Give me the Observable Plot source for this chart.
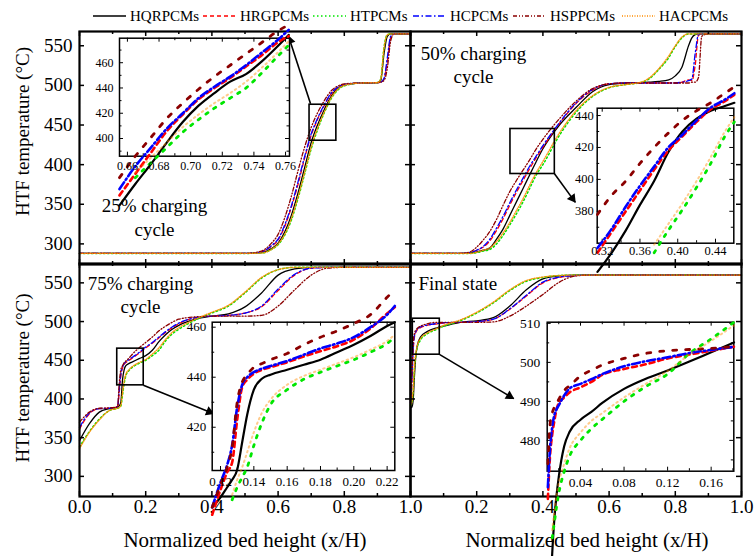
<!DOCTYPE html>
<html><head><meta charset="utf-8">
<script src="https://cdn.jsdelivr.net/npm/d3@7"></script>
<script src="https://cdn.jsdelivr.net/npm/@observablehq/plot@0.6"></script>
<style>
body{margin:0;background:#fff;}
#chart{position:relative;width:755px;height:556px;overflow:hidden;background:#fff;font-family:"Liberation Serif","Times New Roman",serif;}
#chart > svg{position:absolute;left:0;top:0;}
.lg{position:absolute;font-size:15px;line-height:20px;top:6px;white-space:nowrap;color:#000;}
</style></head><body><div id="chart"></div>
<script>
// ---------- series ----------
const seriesNames = ["HQRPCMs","HRGPCMs","HTPCMs","HCPCMs","HSPPCMs","HACPCMs"];
const seriesColors = ["#000000","#ff0000","#00e600","#0000ff","#8b0000","#ff8c00"];
const mainDash = [null,"4,3","1.5,2.5","6,2.5,1.5,2.5","4,2,1,2,1,2","1,1.5"];
const insetDash = [null,"5,4","2.5,7","8,3,1.5,3","4,9","1.5,3.5"];

// ---------- 25% charging cycle ----------
const p25X   = [0,0.50,0.55,0.58,0.60,0.62,0.64,0.66,0.68,0.70,0.72,0.74,0.76,0.78,0.80,0.85,0.90,0.91,0.92,0.93,0.94,0.95,1.0];
const p25HQR = [288,288,289,294,301,315,336,364,396,428,451,470,486,496,500.5,503,503.5,506,540,562,565,565,565];
const p25HRG = [288,288,290,297,305,322,346,375,408,437,458,475,489,497,501,503,503.5,504,508,530,560,565,565];
const p25HT  = [288,288,288.5,293,299,311,330,357,388,420,445,466,483,494,499.5,503,503.5,508,548,564,565,565,565];
const p25HC  = [288,288,290,298,306,324,348,378,410,439,459,476,490,497.5,501,503,503.5,504,509,535,562,565,565];
const p25HSP = [288,288,291,301,312,333,360,392,422,447,466,481,493,499,502,503,503.5,504,506,522,556,565,565];
const p25HAC = [288,288,288.5,293,300,312,332,359,390,422,447,467,484,495,500,503,503.5,508,547,564,565,565,565];
const i25X   = [0.655,0.665,0.675,0.685,0.695,0.705,0.715,0.725,0.735,0.745,0.755,0.762];
const i25HQR = [347,364,380,397,413,426,436,445,451,461,473,482];
const i25HRG = [355,372,389,406,419,431,440,448,457,466,476,481];
const i25HT  = [null,369,381,393,405,415,424,432,440,452,465,474];
const i25HC  = [360,378,393,408,420,432,441,449,458,468,478,486];
const i25HSP = [369,386,401,416,428,439,449,458,467,476,485,490];
const i25HAC = [null,373,385,397,409,419,428,436,445,456,468,477];
const box25 = [0.695,0.776,430.2,475.6];
const arrow25 = [0.698,476.9,0.631,562.6];

// ---------- 50% charging cycle ----------
const p50X   = [0,0.15,0.18,0.20,0.22,0.24,0.26,0.28,0.30,0.32,0.34,0.36,0.38,0.40,0.45,0.50,0.55,0.60,0.65,0.70,0.72,0.75,0.78,0.80,0.82,0.84,0.85,0.86,0.87,0.88,0.90,1.0];
const p50HQR = [288,288,288.5,290,292,295,306,319,336,353,370,387,404,420,450,472,492,501,503,503.5,504,505,507,512,523,550,560,564,565,565,565,565];
const p50HRG = [288,288,289,292,296,304,317,332,349,365,380,395,409,422,452,477,494,502,503,503,503,503,503,503,504,507,506,525,563,565,565,565];
const p50HT  = [288,288,288,289,291,293,300,311,324,338,353,370,387,400,437,466,486,497,501,504,508,520,535,549,560,565,565,565,565,565,565,565];
const p50HC  = [288,288,289,292,297,306,320,335,352,368,383,398,411,424,453,478,495,502,503,503,503,503,503,503,504,506,508,540,564,565,565,565];
const p50HSP = [288,288,290,296,305,316,331,349,366,380,393,406,420,432,458,480,496,502,503,503,503,503,503,503,503,503,504,504,510,562,565,565];
const p50HAC = [288,288,288,289.5,292,295,303,314,327,342,357,374,390,404,440,468,487,497.5,501,504.5,509,521,537,550,561,565,565,565,565,565,565,565];
const i50X   = [0.315,0.33,0.345,0.36,0.375,0.39,0.405,0.42,0.435,0.45,0.46];
const i50HQR = [342,354,368,384,399,417,430,438,443,446,448];
const i50HRG = [354,367,380,393,406,418,427,436,444,449,453];
const i50HT  = [null,null,null,null,354,368,381,395,410,427,436];
const i50HC  = [357,369,383,396,408,420,428,437,445,450,454];
const i50HSP = [378,390,399,410,420,429,437,443,448,454,458];
const i50HAC = [null,null,null,null,359,372,385,399,414,430,439];
const box50 = [0.302,0.436,388.2,445];
const arrow50 = [0.435,388.6,0.498,352.4];

// ---------- 75% charging cycle ----------
const p75X   = [0,0.03,0.06,0.09,0.115,0.12,0.125,0.13,0.135,0.14,0.15,0.16,0.18,0.20,0.22,0.24,0.26,0.28,0.30,0.35,0.40,0.45,0.50,0.55,0.60,0.65,0.70,0.75,0.80,1.0];
const p75HQR = [346,368,383,387.5,389.5,391,396,425,438,443,446,448,452,456,463,474,483,490,495,503,507,510,519,537,560,568,570,570,570,570];
const p75HRG = [361,381,387.5,388,390,408,430,440,445,447,450,453,459,466,472,479,486,492,497,505,507,508,511,519,540,560,569,570,570,570];
const p75HT  = [338,358,374,385,388,389,391,405,420,430,437,441,446,450,456,463,475,484,490,502,511,520,537,556,567,570,570,570,570,570];
const p75HC  = [363,382,387.5,388,390,412,433,441,446,448,451,454,460,467,473,480,487,493,498,505,507,508,511,520,542,561,569,570,570,570];
const p75HSP = [370,383,388,388.5,390,420,438,443,447,449,453,458,466,473,480,488,494,499,503,506,507,507,507,508,520,541,560,569,570,570];
const p75HAC = [336,357,373,385,388,389,392,408,423,432,438,442,447,451,458,466,477,486,492,503,512,521,538,557,567,570,570,570,570,570];
const i75X   = [0.115,0.12,0.124,0.127,0.13,0.133,0.136,0.14,0.145,0.15,0.16,0.17,0.18,0.19,0.20,0.21,0.22,0.2246];
const i75HQR = [388,392,396,399,403,414,425,435,439.5,441,443,445,447,450,453,456.5,460.5,462];
const i75HRG = [385,395,402,406,423,436,439,441.4,443,444,446,448.3,450.4,452.4,455,459.5,465.5,468];
const i75HT  = [null,null,null,391,396,400,404,412.7,422,429,435,439.2,442,444.5,447,450,453.5,456];
const i75HC  = [388,398,405,413,428,437,440,442,443.5,444.5,446.5,449,451.5,453.5,456,460,465,468.5];
const i75HSP = [388,397,404,412,430,438,441,444,445.5,447,449.5,453,456,458.5,461.5,465,472,475];
const i75HAC = [null,null,null,393,399,404,410,418,426,431,437,440.5,443,445.5,448,451,454.5,457];
const box75 = [0.114,0.194,417.6,465];
const arrow75 = [0.193,417.6,0.406,381];

// ---------- Final state ----------
const pFX   = [0,0.004,0.008,0.012,0.016,0.02,0.03,0.05,0.08,0.10,0.15,0.20,0.25,0.30,0.35,0.40,0.45,0.50,0.55,1.0];
const pFHQR = [392,389,398,430,455,468,480,487,492,494,499,501,505,520,541,555,559,560,560,560];
const pFHRG = [395,420,462,480,486,489,492,495,497,498,499,500,503,516,533,550,557,559.5,560,560];
const pFHT  = [392,395,410,440,456,466,476,484,490,494,501,511,524,540,552,557,559.5,560,560,560];
const pFHC  = [395,422,465,482,487,490,493,495.5,497.5,498.5,499,500,503,516.5,534,551,557.5,559.5,560,560];
const pFHSP = [398,430,472,485,489,491,494,497,499,499,499,499,499.5,507,520,535,551,559,560,560];
const pFHAC = [392,396,412,442,458,468,478,485,491,495,502,512,525,541,553,557.5,559.5,560,560,560];
const iFX   = [0.01,0.012,0.014,0.016,0.018,0.02,0.025,0.03,0.04,0.05,0.06,0.08,0.10,0.12,0.14,0.16,0.181];
const iFHQR = [420,440,451,460,466,470.6,478.5,482.2,485.3,487.3,489.6,493.2,495.8,497.9,500.2,502.6,505.1];
const iFHRG = [465,476,481.5,485,488,489.5,491,492.3,493.6,495,496.8,498.3,499.5,501,502,503,504];
const iFHT  = [null,null,455,459,463,466.4,472,476,480,483,485.4,490,493.8,497,502.3,506,510.3];
const iFHC  = [468,478,483.4,486.5,488,489,491.5,493.3,494.5,495.7,497,499,500.3,501.3,502.4,503.2,504];
const iFHSP = [474,484,487,488.5,489.4,490.5,492.8,494,496.5,498,499.3,501,502.3,503,503.3,503.6,504];
const iFHAC = [null,null,457,462,466,469,474,478,482,485,487,491,494.5,497.8,502,505.5,509.5];
const boxF = [0.007,0.0885,457.2,503.7];
const arrowF = [0.0885,457.2,0.312,400.4];

// ---------- ticks & labels ----------
const mainXMajor = [0,0.2,0.4,0.6,0.8,1.0];
const mainXMinor = [0.1,0.3,0.5,0.7,0.9];
const mainXLabelsLeft = ["0.0","0.2","0.4","0.6","0.8","1.0"];
const mainXLabelsRight = ["","0.2","0.4","0.6","0.8","1.0"];
const mainYTicks = [300,350,400,450,500,550];
const mainYLabels = ["300","350","400","450","500","550"];

const i25XTicks = [0.66,0.68,0.70,0.72,0.74,0.76], i25XLabels = ["0.66","0.68","0.70","0.72","0.74","0.76"], i25XMinor = [0.67,0.69,0.71,0.73,0.75];
const i25YTicks = [400,420,440,460], i25YLabels = ["400","420","440","460"], i25YMinor = [390,410,430,450,470];
const i50XTicks = [0.32,0.36,0.40,0.44], i50XLabels = ["0.32","0.36","0.40","0.44"], i50XMinor = [0.34,0.38,0.42];
const i50YTicks = [380,400,420,440], i50YLabels = ["380","400","420","440"], i50YMinor = [370,390,410,430];
const i75XTicks = [0.12,0.14,0.16,0.18,0.20,0.22], i75XLabels = ["0.12","0.14","0.16","0.18","0.20","0.22"], i75XMinor = [0.13,0.15,0.17,0.19,0.21];
const i75YTicks = [420,440,460], i75YLabels = ["420","440","460"], i75YMinor = [410,430,450];
const iFXTicks = [0.04,0.08,0.12,0.16], iFXLabels = ["0.04","0.08","0.12","0.16"], iFXMinor = [0.02,0.06,0.10,0.14,0.18];
const iFYTicks = [480,490,500,510], iFYLabels = ["480","490","500","510"], iFYMinor = [475,485,495,505];

const yTitle = "HTF temperature (°C)";
const xTitle = "Normalized bed height (x/H)";

// ---------- layout ----------
const W = 755, H = 556;
const FONT = '"Liberation Serif","Times New Roman",serif';
const chart = document.getElementById("chart");

function rows(xs, ys){ return xs.map((x,i)=>({x, y: ys[i]})); }
function lines(xs, list, dashes, widths, opac){
  return list.map((ys,k)=>Plot.line(rows(xs, ys), {x:"x", y:"y", stroke: seriesColors[k],
    strokeWidth: widths[k], strokeDasharray: dashes[k] || undefined, strokeOpacity: opac[k],
    curve: "monotone-x"}));
}
function ticks(geo, xMaj, xMin, yMaj, yMin, lenMaj, lenMin, sw){
  const w = geo[1]-geo[0], h = geo[3]-geo[2];
  const m = [];
  for (const [arr,len] of [[xMaj,lenMaj],[xMin,lenMin]]) {
    if (!arr || !arr.length) continue;
    m.push(Plot.ruleX(arr, {x: d=>d, insetTop: h-len, strokeWidth: sw}));
    m.push(Plot.ruleX(arr, {x: d=>d, insetBottom: h-len, strokeWidth: sw}));
  }
  for (const [arr,len] of [[yMaj,lenMaj],[yMin,lenMin]]) {
    if (!arr || !arr.length) continue;
    m.push(Plot.ruleY(arr, {y: d=>d, insetRight: w-len, strokeWidth: sw}));
    m.push(Plot.ruleY(arr, {y: d=>d, insetLeft: w-len, strokeWidth: sw}));
  }
  return m;
}
function makePlot(geo, xDomain, yDomain, marks){
  return Plot.plot({
    width: W, height: H,
    marginLeft: geo[0], marginRight: W-geo[1], marginTop: geo[2], marginBottom: H-geo[3],
    x: {domain: xDomain, axis: null},
    y: {domain: yDomain, axis: null},
    style: {background: "transparent", overflow: "visible", fontFamily: FONT, fontSize: "19px"},
    marks
  });
}
function boxMark(b){ return Plot.rect([b], {x1: d=>d[0], x2: d=>d[1], y1: d=>d[2], y2: d=>d[3], fill: "none", stroke: "black", strokeWidth: 1.6}); }
function shaftMark(a){ return Plot.link([a], {x1: d=>d[0], y1: d=>d[1], x2: d=>d[2], y2: d=>d[3], stroke: "black", strokeWidth: 1.6}); }

const mainW = [1.3,1.3,1.5,1.3,1.3,1.4];
const mainO = [1,1,1,1,1,0.9];
const insW = [2.2,2.6,2.8,2.6,2.8,2];
const insO = [1,1,1,1,1,0.45];

const geoP25 = [79,410,31,264], geoP50 = [410,741,31,264], geoP75 = [79,410,263,496], geoPF = [410,741,263,496];
const yTop = [274,568], yBot = [274,575];

function mainPanel(geo, yDom, xs, list, box, arrow, opts){
  const m = [
    ...lines(xs, list, mainDash, mainW, mainO),
    boxMark(box), shaftMark(arrow),
    ...ticks(geo, mainXMajor, mainXMinor, mainYTicks, null, 5, 3, 1.5),
    Plot.frame({stroke: "black", strokeWidth: 2.2})
  ];
  if (opts.yLabels) {
    m.push(Plot.text(mainYLabels, {y: (d,i)=>mainYTicks[i], text: d=>d, frameAnchor: "left", textAnchor: "end", lineAnchor: "middle", dx: -7, fontSize: 19}));
    m.push(Plot.text([yTitle], {frameAnchor: "left", rotate: -90, textAnchor: "middle", lineAnchor: "middle", dx: -57, dy: opts.yTitleDy, fontSize: 19}));
  }
  if (opts.xLabels) {
    m.push(Plot.text(opts.xLabels, {x: (d,i)=>mainXMajor[i], text: d=>d, frameAnchor: "bottom", lineAnchor: "top", dy: 2.5, fontSize: 19}));
    m.push(Plot.text([xTitle], {frameAnchor: "bottom", textAnchor: "middle", lineAnchor: "middle", dy: 44, dx: opts.xTitleDx, fontSize: 21}));
  }
  m.push(Plot.text([opts.label], {frameAnchor: "top-left", textAnchor: opts.labelAnchor, lineAnchor: "middle", lineHeight: 1.25, dx: opts.labelDx, dy: opts.labelDy, fontSize: 19}));
  const svg = makePlot(geo, [0,1], yDom, m);
  chart.appendChild(svg);
  // filled arrowhead, oriented using the plot's own scales
  const sx = svg.scale("x"), sy = svg.scale("y");
  const ddx = sx.apply(arrow[2]) - sx.apply(arrow[0]);
  const ddy = sy.apply(arrow[3]) - sy.apply(arrow[1]);
  const len = Math.hypot(ddx, ddy);
  const ang = Math.atan2(ddx, -ddy) * 180 / Math.PI;
  const back = 5;
  const head = makePlot(geo, [0,1], yDom, [
    Plot.dot([arrow], {x: d=>d[2], y: d=>d[3], symbol: "triangle", r: 3.6, fill: "black", stroke: "none",
      rotate: ang, dx: -ddx/len*back, dy: -ddy/len*back})
  ]);
  chart.appendChild(head);
}

mainPanel(geoP25, yTop, p25X, [p25HQR,p25HRG,p25HT,p25HC,p25HSP,p25HAC], box25, arrow25,
  {yLabels: true, yTitleDy: -16.5, label: "25% charging\ncycle", labelAnchor: "middle", labelDx: 75, labelDy: 185});
mainPanel(geoP50, yTop, p50X, [p50HQR,p50HRG,p50HT,p50HC,p50HSP,p50HAC], box50, arrow50,
  {label: "50% charging\ncycle", labelAnchor: "middle", labelDx: 63, labelDy: 32.5});
mainPanel(geoP75, yBot, p75X, [p75HQR,p75HRG,p75HT,p75HC,p75HSP,p75HAC], box75, arrow75,
  {yLabels: true, yTitleDy: -2, xLabels: mainXLabelsLeft, xTitleDx: 0, label: "75% charging\ncycle", labelAnchor: "middle", labelDx: 61, labelDy: 30.5});
mainPanel(geoPF, yBot, pFX, [pFHQR,pFHRG,pFHT,pFHC,pFHSP,pFHAC], boxF, arrowF,
  {xLabels: mainXLabelsRight, xTitleDx: 11, label: "Final state", labelAnchor: "start", labelDx: 8, labelDy: 19});

function insetPanel(geo, xDom, yDom, xs, list, xt, xl, xm, yt, yl, ym, fs, ydx, xdy){
  const m = [
    Plot.frame({fill: "white", stroke: "none"}),
    ...ticks(geo, xt, xm, yt, ym, 4, 2.5, 1),
    Plot.frame({stroke: "black", strokeWidth: 1.5}),
    ...lines(xs, list, insetDash, insW, insO),
    Plot.text(xl, {x: (d,i)=>xt[i], text: d=>d, frameAnchor: "bottom", lineAnchor: "top", dy: xdy, fontSize: fs}),
    Plot.text(yl, {y: (d,i)=>yt[i], text: d=>d, frameAnchor: "left", textAnchor: "end", lineAnchor: "middle", dx: ydx, fontSize: fs})
  ];
  chart.appendChild(makePlot(geo, xDom, yDom, m));
}
insetPanel([119,289,37.7,155.7], [0.655,0.7625], [386,479.4], i25X, [i25HQR,i25HRG,i25HT,i25HC,i25HSP,i25HAC],
  i25XTicks, i25XLabels, i25XMinor, i25YTicks, i25YLabels, i25YMinor, 12, -6, 5);
insetPanel([596.7,733.3,107.7,242.7], [0.3147,0.4594], [360,444.6], i50X, [i50HQR,i50HRG,i50HT,i50HC,i50HSP,i50HAC],
  i50XTicks, i50XLabels, i50XMinor, i50YTicks, i50YLabels, i50YMinor, 12.5, -3.5, 3);
insetPanel([211.7,394.3,321.7,470], [0.115,0.2246], [402.7,462], i75X, [i75HQR,i75HRG,i75HT,i75HC,i75HSP,i75HAC],
  i75XTicks, i75XLabels, i75XMinor, i75YTicks, i75YLabels, i75YMinor, 13, -6, 6);
insetPanel([546.7,733.3,321.7,470.7], [0.0094,0.1808], [472.1,510.3], iFX, [iFHQR,iFHRG,iFHT,iFHC,iFHSP,iFHAC],
  iFXTicks, iFXLabels, iFXMinor, iFYTicks, iFYLabels, iFYMinor, 13.5, -7, 6);

// ---------- legend ----------
const legendSampleX = [93,203,313,413,513,622];
seriesNames.forEach((name,k)=>{
  const ns = "http://www.w3.org/2000/svg";
  const s = document.createElementNS(ns, "svg");
  s.setAttribute("width", 33); s.setAttribute("height", 10);
  s.style.cssText = `position:absolute;left:${legendSampleX[k]}px;top:11px;overflow:visible`;
  const l = document.createElementNS(ns, "line");
  l.setAttribute("x1", 0); l.setAttribute("x2", 33); l.setAttribute("y1", 5); l.setAttribute("y2", 5);
  l.setAttribute("stroke", seriesColors[k]); l.setAttribute("stroke-width", 1.4);
  if (mainDash[k]) l.setAttribute("stroke-dasharray", mainDash[k]);
  s.appendChild(l);
  chart.appendChild(s);
  const t = document.createElement("div");
  t.className = "lg"; t.textContent = name;
  t.style.left = (legendSampleX[k] + 37) + "px";
  chart.appendChild(t);
});
</script></body></html>
